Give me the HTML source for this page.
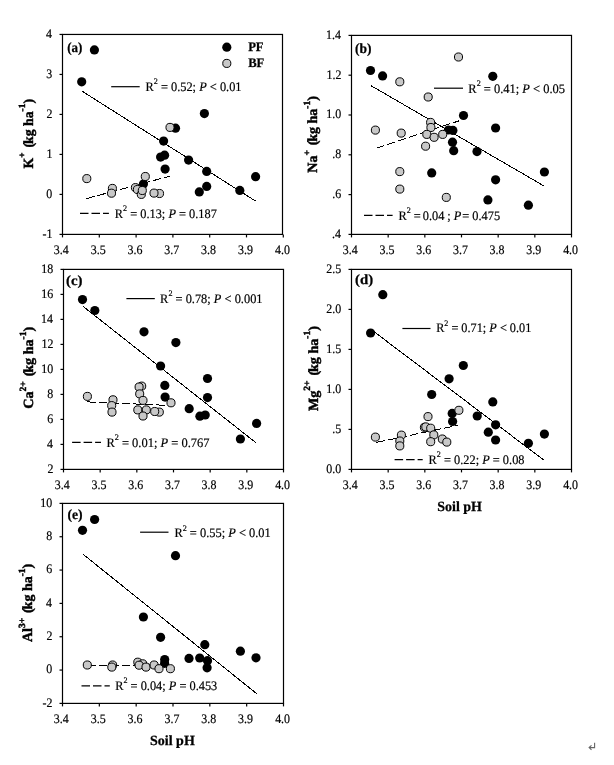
<!DOCTYPE html><html><head><meta charset="utf-8"><style>html,body{margin:0;padding:0;background:#fff;}svg{display:block;will-change:transform;}text{font-family:"Liberation Serif",serif;text-rendering:geometricPrecision;stroke:#000;stroke-width:0.2px;}</style></head><body>
<svg width="614" height="765" viewBox="0 0 614 765">
<rect width="100%" height="100%" fill="#fff"/>
<rect x="62.5" y="34.45" width="220" height="199.95" fill="none" stroke="#000" stroke-width="1.2"/>
<line x1="62.5" y1="234.4" x2="62.5" y2="237.4" stroke="#000" stroke-width="1.2"/>
<line x1="99.3" y1="234.4" x2="99.3" y2="237.4" stroke="#000" stroke-width="1.2"/>
<line x1="136.1" y1="234.4" x2="136.1" y2="237.4" stroke="#000" stroke-width="1.2"/>
<line x1="172.9" y1="234.4" x2="172.9" y2="237.4" stroke="#000" stroke-width="1.2"/>
<line x1="209.7" y1="234.4" x2="209.7" y2="237.4" stroke="#000" stroke-width="1.2"/>
<line x1="246.5" y1="234.4" x2="246.5" y2="237.4" stroke="#000" stroke-width="1.2"/>
<line x1="283.3" y1="234.4" x2="283.3" y2="237.4" stroke="#000" stroke-width="1.2"/>
<line x1="59.5" y1="34.45" x2="62.5" y2="34.45" stroke="#000" stroke-width="1.2"/>
<line x1="59.5" y1="74.44" x2="62.5" y2="74.44" stroke="#000" stroke-width="1.2"/>
<line x1="59.5" y1="114.43" x2="62.5" y2="114.43" stroke="#000" stroke-width="1.2"/>
<line x1="59.5" y1="154.42" x2="62.5" y2="154.42" stroke="#000" stroke-width="1.2"/>
<line x1="59.5" y1="194.41" x2="62.5" y2="194.41" stroke="#000" stroke-width="1.2"/>
<line x1="59.5" y1="234.4" x2="62.5" y2="234.4" stroke="#000" stroke-width="1.2"/>
<line x1="82.1" y1="91.2" x2="255.6" y2="201.1" stroke="#000" stroke-width="1.0" shape-rendering="crispEdges"/>
<line x1="86.4" y1="198.6" x2="170" y2="176.1" stroke="#000" stroke-width="1.0" stroke-dasharray="8.5 3" shape-rendering="crispEdges"/>
<circle cx="94.4" cy="49.9" r="4.6" fill="#000"/>
<circle cx="81.7" cy="81.8" r="4.6" fill="#000"/>
<circle cx="204.4" cy="113.6" r="4.6" fill="#000"/>
<circle cx="175.5" cy="128.2" r="4.6" fill="#000"/>
<circle cx="163.6" cy="141.1" r="4.6" fill="#000"/>
<circle cx="160.6" cy="157.1" r="4.6" fill="#000"/>
<circle cx="164.6" cy="155.2" r="4.6" fill="#000"/>
<circle cx="165.1" cy="169.1" r="4.6" fill="#000"/>
<circle cx="143.4" cy="184" r="4.6" fill="#000"/>
<circle cx="188.6" cy="160.1" r="4.6" fill="#000"/>
<circle cx="206.7" cy="171.4" r="4.6" fill="#000"/>
<circle cx="206.7" cy="186.4" r="4.6" fill="#000"/>
<circle cx="199.3" cy="191.9" r="4.6" fill="#000"/>
<circle cx="239.8" cy="190.4" r="4.6" fill="#000"/>
<circle cx="255.6" cy="176.7" r="4.6" fill="#000"/>
<circle cx="170" cy="127.4" r="4.05" fill="#c8c8c8" stroke="#000" stroke-width="1.0"/>
<circle cx="86.8" cy="178.6" r="4.05" fill="#c8c8c8" stroke="#000" stroke-width="1.0"/>
<circle cx="145.3" cy="176.5" r="4.05" fill="#c8c8c8" stroke="#000" stroke-width="1.0"/>
<circle cx="112.4" cy="188.4" r="4.05" fill="#c8c8c8" stroke="#000" stroke-width="1.0"/>
<circle cx="111.5" cy="193.2" r="4.05" fill="#c8c8c8" stroke="#000" stroke-width="1.0"/>
<circle cx="135.4" cy="187.6" r="4.05" fill="#c8c8c8" stroke="#000" stroke-width="1.0"/>
<circle cx="137.4" cy="189.5" r="4.05" fill="#c8c8c8" stroke="#000" stroke-width="1.0"/>
<circle cx="141.3" cy="194.4" r="4.05" fill="#c8c8c8" stroke="#000" stroke-width="1.0"/>
<circle cx="142.3" cy="190.5" r="4.05" fill="#c8c8c8" stroke="#000" stroke-width="1.0"/>
<circle cx="159.5" cy="193.5" r="4.05" fill="#c8c8c8" stroke="#000" stroke-width="1.0"/>
<circle cx="154" cy="193.1" r="4.05" fill="#c8c8c8" stroke="#000" stroke-width="1.0"/>
<line x1="111.2" y1="86.7" x2="139.7" y2="86.7" stroke="#000" stroke-width="1.2"/>
<line x1="80" y1="213.4" x2="108.9" y2="213.4" stroke="#000" stroke-width="1.2" stroke-dasharray="8.5 3"/>
<rect x="351.5" y="35.4" width="220" height="199" fill="none" stroke="#000" stroke-width="1.2"/>
<line x1="351.5" y1="234.4" x2="351.5" y2="237.4" stroke="#000" stroke-width="1.2"/>
<line x1="388.17" y1="234.4" x2="388.17" y2="237.4" stroke="#000" stroke-width="1.2"/>
<line x1="424.83" y1="234.4" x2="424.83" y2="237.4" stroke="#000" stroke-width="1.2"/>
<line x1="461.5" y1="234.4" x2="461.5" y2="237.4" stroke="#000" stroke-width="1.2"/>
<line x1="498.17" y1="234.4" x2="498.17" y2="237.4" stroke="#000" stroke-width="1.2"/>
<line x1="534.83" y1="234.4" x2="534.83" y2="237.4" stroke="#000" stroke-width="1.2"/>
<line x1="571.5" y1="234.4" x2="571.5" y2="237.4" stroke="#000" stroke-width="1.2"/>
<line x1="348.5" y1="35.4" x2="351.5" y2="35.4" stroke="#000" stroke-width="1.2"/>
<line x1="348.5" y1="75.2" x2="351.5" y2="75.2" stroke="#000" stroke-width="1.2"/>
<line x1="348.5" y1="115" x2="351.5" y2="115" stroke="#000" stroke-width="1.2"/>
<line x1="348.5" y1="154.8" x2="351.5" y2="154.8" stroke="#000" stroke-width="1.2"/>
<line x1="348.5" y1="194.6" x2="351.5" y2="194.6" stroke="#000" stroke-width="1.2"/>
<line x1="348.5" y1="234.4" x2="351.5" y2="234.4" stroke="#000" stroke-width="1.2"/>
<line x1="371.1" y1="85.7" x2="544.4" y2="186.2" stroke="#000" stroke-width="1.0" shape-rendering="crispEdges"/>
<line x1="376.4" y1="148.1" x2="459.4" y2="120.7" stroke="#000" stroke-width="1.0" stroke-dasharray="8.5 3" shape-rendering="crispEdges"/>
<circle cx="370.5" cy="70.5" r="4.6" fill="#000"/>
<circle cx="382.6" cy="75.9" r="4.6" fill="#000"/>
<circle cx="492.8" cy="76.3" r="4.6" fill="#000"/>
<circle cx="463.5" cy="115.5" r="4.6" fill="#000"/>
<circle cx="448.4" cy="130" r="4.6" fill="#000"/>
<circle cx="452.9" cy="130.4" r="4.6" fill="#000"/>
<circle cx="452.5" cy="142.2" r="4.6" fill="#000"/>
<circle cx="453.7" cy="150.7" r="4.6" fill="#000"/>
<circle cx="495.6" cy="128" r="4.6" fill="#000"/>
<circle cx="477" cy="151.6" r="4.6" fill="#000"/>
<circle cx="431.7" cy="172.9" r="4.6" fill="#000"/>
<circle cx="544.4" cy="172" r="4.6" fill="#000"/>
<circle cx="495.6" cy="179.8" r="4.6" fill="#000"/>
<circle cx="487.9" cy="199.9" r="4.6" fill="#000"/>
<circle cx="528.4" cy="205.2" r="4.6" fill="#000"/>
<circle cx="399.8" cy="81.8" r="4.05" fill="#c8c8c8" stroke="#000" stroke-width="1.0"/>
<circle cx="458.5" cy="57" r="4.05" fill="#c8c8c8" stroke="#000" stroke-width="1.0"/>
<circle cx="428.2" cy="97" r="4.05" fill="#c8c8c8" stroke="#000" stroke-width="1.0"/>
<circle cx="430.6" cy="122.4" r="4.05" fill="#c8c8c8" stroke="#000" stroke-width="1.0"/>
<circle cx="430.9" cy="127.5" r="4.05" fill="#c8c8c8" stroke="#000" stroke-width="1.0"/>
<circle cx="426.8" cy="134.4" r="4.05" fill="#c8c8c8" stroke="#000" stroke-width="1.0"/>
<circle cx="434.1" cy="137.3" r="4.05" fill="#c8c8c8" stroke="#000" stroke-width="1.0"/>
<circle cx="442.7" cy="134.4" r="4.05" fill="#c8c8c8" stroke="#000" stroke-width="1.0"/>
<circle cx="425.6" cy="146.2" r="4.05" fill="#c8c8c8" stroke="#000" stroke-width="1.0"/>
<circle cx="375.4" cy="130.1" r="4.05" fill="#c8c8c8" stroke="#000" stroke-width="1.0"/>
<circle cx="401.2" cy="133.1" r="4.05" fill="#c8c8c8" stroke="#000" stroke-width="1.0"/>
<circle cx="399.8" cy="171.6" r="4.05" fill="#c8c8c8" stroke="#000" stroke-width="1.0"/>
<circle cx="399.8" cy="189.1" r="4.05" fill="#c8c8c8" stroke="#000" stroke-width="1.0"/>
<circle cx="446.3" cy="197.4" r="4.05" fill="#c8c8c8" stroke="#000" stroke-width="1.0"/>
<line x1="434" y1="88.2" x2="463" y2="88.2" stroke="#000" stroke-width="1.2"/>
<line x1="364" y1="215.4" x2="392.6" y2="215.4" stroke="#000" stroke-width="1.2" stroke-dasharray="8.5 3"/>
<rect x="63.5" y="269.4" width="220" height="200" fill="none" stroke="#000" stroke-width="1.2"/>
<line x1="63.5" y1="469.4" x2="63.5" y2="472.4" stroke="#000" stroke-width="1.2"/>
<line x1="100.17" y1="469.4" x2="100.17" y2="472.4" stroke="#000" stroke-width="1.2"/>
<line x1="136.83" y1="469.4" x2="136.83" y2="472.4" stroke="#000" stroke-width="1.2"/>
<line x1="173.5" y1="469.4" x2="173.5" y2="472.4" stroke="#000" stroke-width="1.2"/>
<line x1="210.17" y1="469.4" x2="210.17" y2="472.4" stroke="#000" stroke-width="1.2"/>
<line x1="246.83" y1="469.4" x2="246.83" y2="472.4" stroke="#000" stroke-width="1.2"/>
<line x1="283.5" y1="469.4" x2="283.5" y2="472.4" stroke="#000" stroke-width="1.2"/>
<line x1="60.5" y1="269.4" x2="63.5" y2="269.4" stroke="#000" stroke-width="1.2"/>
<line x1="60.5" y1="294.4" x2="63.5" y2="294.4" stroke="#000" stroke-width="1.2"/>
<line x1="60.5" y1="319.4" x2="63.5" y2="319.4" stroke="#000" stroke-width="1.2"/>
<line x1="60.5" y1="344.4" x2="63.5" y2="344.4" stroke="#000" stroke-width="1.2"/>
<line x1="60.5" y1="369.4" x2="63.5" y2="369.4" stroke="#000" stroke-width="1.2"/>
<line x1="60.5" y1="394.4" x2="63.5" y2="394.4" stroke="#000" stroke-width="1.2"/>
<line x1="60.5" y1="419.4" x2="63.5" y2="419.4" stroke="#000" stroke-width="1.2"/>
<line x1="60.5" y1="444.4" x2="63.5" y2="444.4" stroke="#000" stroke-width="1.2"/>
<line x1="60.5" y1="469.4" x2="63.5" y2="469.4" stroke="#000" stroke-width="1.2"/>
<line x1="83.1" y1="306.4" x2="256.6" y2="443.3" stroke="#000" stroke-width="1.0" shape-rendering="crispEdges"/>
<line x1="87.4" y1="401.9" x2="168.5" y2="405.4" stroke="#000" stroke-width="1.0" stroke-dasharray="8.5 3" shape-rendering="crispEdges"/>
<circle cx="82.5" cy="299.6" r="4.6" fill="#000"/>
<circle cx="94.8" cy="310.5" r="4.6" fill="#000"/>
<circle cx="144" cy="331.8" r="4.6" fill="#000"/>
<circle cx="175.9" cy="342.6" r="4.6" fill="#000"/>
<circle cx="160.6" cy="366" r="4.6" fill="#000"/>
<circle cx="164.8" cy="385.4" r="4.6" fill="#000"/>
<circle cx="165.1" cy="397.1" r="4.6" fill="#000"/>
<circle cx="207.5" cy="378.5" r="4.6" fill="#000"/>
<circle cx="207.5" cy="397.6" r="4.6" fill="#000"/>
<circle cx="189.2" cy="408.7" r="4.6" fill="#000"/>
<circle cx="199.9" cy="416.2" r="4.6" fill="#000"/>
<circle cx="205.2" cy="415" r="4.6" fill="#000"/>
<circle cx="256.6" cy="423.4" r="4.6" fill="#000"/>
<circle cx="240.4" cy="439" r="4.6" fill="#000"/>
<circle cx="87.4" cy="396.4" r="4.05" fill="#c8c8c8" stroke="#000" stroke-width="1.0"/>
<circle cx="113" cy="399.8" r="4.05" fill="#c8c8c8" stroke="#000" stroke-width="1.0"/>
<circle cx="111.7" cy="405.6" r="4.05" fill="#c8c8c8" stroke="#000" stroke-width="1.0"/>
<circle cx="112" cy="412.1" r="4.05" fill="#c8c8c8" stroke="#000" stroke-width="1.0"/>
<circle cx="141.7" cy="386.1" r="4.05" fill="#c8c8c8" stroke="#000" stroke-width="1.0"/>
<circle cx="139.1" cy="387" r="4.05" fill="#c8c8c8" stroke="#000" stroke-width="1.0"/>
<circle cx="139.7" cy="393.9" r="4.05" fill="#c8c8c8" stroke="#000" stroke-width="1.0"/>
<circle cx="143" cy="400.4" r="4.05" fill="#c8c8c8" stroke="#000" stroke-width="1.0"/>
<circle cx="137.8" cy="409.9" r="4.05" fill="#c8c8c8" stroke="#000" stroke-width="1.0"/>
<circle cx="146.3" cy="409.9" r="4.05" fill="#c8c8c8" stroke="#000" stroke-width="1.0"/>
<circle cx="143" cy="416" r="4.05" fill="#c8c8c8" stroke="#000" stroke-width="1.0"/>
<circle cx="159.3" cy="412.1" r="4.05" fill="#c8c8c8" stroke="#000" stroke-width="1.0"/>
<circle cx="154.7" cy="411.5" r="4.05" fill="#c8c8c8" stroke="#000" stroke-width="1.0"/>
<circle cx="171" cy="402.8" r="4.05" fill="#c8c8c8" stroke="#000" stroke-width="1.0"/>
<line x1="126.4" y1="298.6" x2="154.8" y2="298.6" stroke="#000" stroke-width="1.2"/>
<line x1="72.1" y1="442.4" x2="101" y2="442.4" stroke="#000" stroke-width="1.2" stroke-dasharray="8.5 3"/>
<rect x="351.5" y="269.4" width="220" height="200" fill="none" stroke="#000" stroke-width="1.2"/>
<line x1="351.5" y1="469.4" x2="351.5" y2="472.4" stroke="#000" stroke-width="1.2"/>
<line x1="388.17" y1="469.4" x2="388.17" y2="472.4" stroke="#000" stroke-width="1.2"/>
<line x1="424.83" y1="469.4" x2="424.83" y2="472.4" stroke="#000" stroke-width="1.2"/>
<line x1="461.5" y1="469.4" x2="461.5" y2="472.4" stroke="#000" stroke-width="1.2"/>
<line x1="498.17" y1="469.4" x2="498.17" y2="472.4" stroke="#000" stroke-width="1.2"/>
<line x1="534.83" y1="469.4" x2="534.83" y2="472.4" stroke="#000" stroke-width="1.2"/>
<line x1="571.5" y1="469.4" x2="571.5" y2="472.4" stroke="#000" stroke-width="1.2"/>
<line x1="348.5" y1="269.4" x2="351.5" y2="269.4" stroke="#000" stroke-width="1.2"/>
<line x1="348.5" y1="309.4" x2="351.5" y2="309.4" stroke="#000" stroke-width="1.2"/>
<line x1="348.5" y1="349.4" x2="351.5" y2="349.4" stroke="#000" stroke-width="1.2"/>
<line x1="348.5" y1="389.4" x2="351.5" y2="389.4" stroke="#000" stroke-width="1.2"/>
<line x1="348.5" y1="429.4" x2="351.5" y2="429.4" stroke="#000" stroke-width="1.2"/>
<line x1="348.5" y1="469.4" x2="351.5" y2="469.4" stroke="#000" stroke-width="1.2"/>
<line x1="371" y1="329.4" x2="544.4" y2="460.5" stroke="#000" stroke-width="1.0" shape-rendering="crispEdges"/>
<line x1="376.4" y1="442.4" x2="457.5" y2="425.4" stroke="#000" stroke-width="1.0" stroke-dasharray="8.5 3" shape-rendering="crispEdges"/>
<circle cx="382.8" cy="294.7" r="4.6" fill="#000"/>
<circle cx="370.6" cy="333" r="4.6" fill="#000"/>
<circle cx="463.3" cy="365.5" r="4.6" fill="#000"/>
<circle cx="449.1" cy="378.8" r="4.6" fill="#000"/>
<circle cx="431.7" cy="394.5" r="4.6" fill="#000"/>
<circle cx="452.2" cy="413.4" r="4.6" fill="#000"/>
<circle cx="452.6" cy="421.5" r="4.6" fill="#000"/>
<circle cx="492.8" cy="401.9" r="4.6" fill="#000"/>
<circle cx="477.2" cy="416" r="4.6" fill="#000"/>
<circle cx="495.6" cy="424.8" r="4.6" fill="#000"/>
<circle cx="488.3" cy="432.2" r="4.6" fill="#000"/>
<circle cx="495.6" cy="440" r="4.6" fill="#000"/>
<circle cx="528.4" cy="443.3" r="4.6" fill="#000"/>
<circle cx="544.4" cy="434.1" r="4.6" fill="#000"/>
<circle cx="458.9" cy="410.3" r="4.05" fill="#c8c8c8" stroke="#000" stroke-width="1.0"/>
<circle cx="428" cy="416.6" r="4.05" fill="#c8c8c8" stroke="#000" stroke-width="1.0"/>
<circle cx="424.4" cy="427.3" r="4.05" fill="#c8c8c8" stroke="#000" stroke-width="1.0"/>
<circle cx="425.8" cy="426.9" r="4.05" fill="#c8c8c8" stroke="#000" stroke-width="1.0"/>
<circle cx="430.7" cy="428.2" r="4.05" fill="#c8c8c8" stroke="#000" stroke-width="1.0"/>
<circle cx="433.8" cy="434.9" r="4.05" fill="#c8c8c8" stroke="#000" stroke-width="1.0"/>
<circle cx="430.7" cy="441.7" r="4.05" fill="#c8c8c8" stroke="#000" stroke-width="1.0"/>
<circle cx="442.3" cy="439" r="4.05" fill="#c8c8c8" stroke="#000" stroke-width="1.0"/>
<circle cx="446.8" cy="442.1" r="4.05" fill="#c8c8c8" stroke="#000" stroke-width="1.0"/>
<circle cx="375.4" cy="437.1" r="4.05" fill="#c8c8c8" stroke="#000" stroke-width="1.0"/>
<circle cx="401.4" cy="435.1" r="4.05" fill="#c8c8c8" stroke="#000" stroke-width="1.0"/>
<circle cx="399.8" cy="441" r="4.05" fill="#c8c8c8" stroke="#000" stroke-width="1.0"/>
<circle cx="399.8" cy="445.9" r="4.05" fill="#c8c8c8" stroke="#000" stroke-width="1.0"/>
<line x1="402.4" y1="328.5" x2="430.5" y2="328.5" stroke="#000" stroke-width="1.2"/>
<line x1="394.6" y1="459.6" x2="422.7" y2="459.6" stroke="#000" stroke-width="1.2" stroke-dasharray="8.5 3"/>
<rect x="62.5" y="503.4" width="221" height="200" fill="none" stroke="#000" stroke-width="1.2"/>
<line x1="62.5" y1="703.4" x2="62.5" y2="706.4" stroke="#000" stroke-width="1.2"/>
<line x1="99.33" y1="703.4" x2="99.33" y2="706.4" stroke="#000" stroke-width="1.2"/>
<line x1="136.17" y1="703.4" x2="136.17" y2="706.4" stroke="#000" stroke-width="1.2"/>
<line x1="173" y1="703.4" x2="173" y2="706.4" stroke="#000" stroke-width="1.2"/>
<line x1="209.83" y1="703.4" x2="209.83" y2="706.4" stroke="#000" stroke-width="1.2"/>
<line x1="246.67" y1="703.4" x2="246.67" y2="706.4" stroke="#000" stroke-width="1.2"/>
<line x1="283.5" y1="703.4" x2="283.5" y2="706.4" stroke="#000" stroke-width="1.2"/>
<line x1="59.5" y1="503.4" x2="62.5" y2="503.4" stroke="#000" stroke-width="1.2"/>
<line x1="59.5" y1="536.73" x2="62.5" y2="536.73" stroke="#000" stroke-width="1.2"/>
<line x1="59.5" y1="570.07" x2="62.5" y2="570.07" stroke="#000" stroke-width="1.2"/>
<line x1="59.5" y1="603.4" x2="62.5" y2="603.4" stroke="#000" stroke-width="1.2"/>
<line x1="59.5" y1="636.73" x2="62.5" y2="636.73" stroke="#000" stroke-width="1.2"/>
<line x1="59.5" y1="670.07" x2="62.5" y2="670.07" stroke="#000" stroke-width="1.2"/>
<line x1="59.5" y1="703.4" x2="62.5" y2="703.4" stroke="#000" stroke-width="1.2"/>
<line x1="83.1" y1="554.3" x2="256.6" y2="693.6" stroke="#000" stroke-width="1.0" shape-rendering="crispEdges"/>
<line x1="87.3" y1="665" x2="168.5" y2="665" stroke="#000" stroke-width="1.0" stroke-dasharray="8.5 3" shape-rendering="crispEdges"/>
<circle cx="94.6" cy="519.5" r="4.6" fill="#000"/>
<circle cx="82.5" cy="530.3" r="4.6" fill="#000"/>
<circle cx="175.5" cy="555.7" r="4.6" fill="#000"/>
<circle cx="143.4" cy="617" r="4.6" fill="#000"/>
<circle cx="160.6" cy="637.3" r="4.6" fill="#000"/>
<circle cx="164.7" cy="659.5" r="4.6" fill="#000"/>
<circle cx="164.6" cy="663.3" r="4.6" fill="#000"/>
<circle cx="204.8" cy="644.7" r="4.6" fill="#000"/>
<circle cx="189" cy="658.4" r="4.6" fill="#000"/>
<circle cx="199.7" cy="658" r="4.6" fill="#000"/>
<circle cx="207.5" cy="660.7" r="4.6" fill="#000"/>
<circle cx="207.1" cy="667.8" r="4.6" fill="#000"/>
<circle cx="240.4" cy="651.2" r="4.6" fill="#000"/>
<circle cx="256" cy="657.8" r="4.6" fill="#000"/>
<circle cx="87.3" cy="665" r="4.05" fill="#c8c8c8" stroke="#000" stroke-width="1.0"/>
<circle cx="112.6" cy="665" r="4.05" fill="#c8c8c8" stroke="#000" stroke-width="1.0"/>
<circle cx="111.8" cy="667.1" r="4.05" fill="#c8c8c8" stroke="#000" stroke-width="1.0"/>
<circle cx="137.8" cy="662.2" r="4.05" fill="#c8c8c8" stroke="#000" stroke-width="1.0"/>
<circle cx="142.7" cy="663.8" r="4.05" fill="#c8c8c8" stroke="#000" stroke-width="1.0"/>
<circle cx="139.1" cy="665.2" r="4.05" fill="#c8c8c8" stroke="#000" stroke-width="1.0"/>
<circle cx="146" cy="667.1" r="4.05" fill="#c8c8c8" stroke="#000" stroke-width="1.0"/>
<circle cx="154.1" cy="665" r="4.05" fill="#c8c8c8" stroke="#000" stroke-width="1.0"/>
<circle cx="159" cy="668.7" r="4.05" fill="#c8c8c8" stroke="#000" stroke-width="1.0"/>
<circle cx="170.4" cy="668.7" r="4.05" fill="#c8c8c8" stroke="#000" stroke-width="1.0"/>
<line x1="140.1" y1="532.2" x2="168.5" y2="532.2" stroke="#000" stroke-width="1.2"/>
<line x1="81.5" y1="685.8" x2="109.8" y2="685.8" stroke="#000" stroke-width="1.2" stroke-dasharray="8.5 3"/>
<circle cx="226.8" cy="47.2" r="4.6" fill="#000"/>
<circle cx="226.8" cy="63.4" r="4.05" fill="#c8c8c8" stroke="#000" stroke-width="1.0"/>
<text transform="translate(53.8,253.8) scale(0.9200,1)" font-size="13">3.4</text>
<text transform="translate(90.71,253.8) scale(0.9200,1)" font-size="13">3.5</text>
<text transform="translate(127.51,253.8) scale(0.9200,1)" font-size="13">3.6</text>
<text transform="translate(164.31,253.8) scale(0.9200,1)" font-size="13">3.7</text>
<text transform="translate(201.11,253.8) scale(0.9200,1)" font-size="13">3.8</text>
<text transform="translate(237.91,253.8) scale(0.9200,1)" font-size="13">3.9</text>
<text transform="translate(274.94,253.8) scale(0.9200,1)" font-size="13">4.0</text>
<text transform="translate(46.05,37.75) scale(0.9200,1)" font-size="13">4</text>
<text transform="translate(46.28,77.74) scale(0.9200,1)" font-size="13">3</text>
<text transform="translate(46.51,117.73) scale(0.9200,1)" font-size="13">2</text>
<text transform="translate(46.51,157.72) scale(0.9200,1)" font-size="13">1</text>
<text transform="translate(46.28,197.71) scale(0.9200,1)" font-size="13">0</text>
<text transform="translate(42.6,237.7) scale(0.9200,1)" font-size="13">-1</text>
<text transform="translate(67.23,51.8) scale(0.9311,1)" font-size="14" font-weight="bold" style="stroke-width:0.25px">(a)</text>
<text transform="translate(145.52,90.9) scale(0.9514,1)" font-size="13">R<tspan font-size="8.5" dy="-6.5">2</tspan><tspan dy="6.5"> = 0.52; </tspan><tspan font-style="italic">P</tspan> &lt; 0.01</text>
<text transform="translate(114.82,217.6) scale(0.9502,1)" font-size="13">R<tspan font-size="8.5" dy="-6.5">2</tspan><tspan dy="6.5"> = 0.13; </tspan><tspan font-style="italic">P</tspan> = 0.187</text>
<text transform="translate(32.6,168.45) rotate(-90) scale(0.9856,1)" font-size="14" font-weight="bold" style="stroke-width:0.45px">K<tspan font-size="9.5" dy="-7.2">+</tspan><tspan dy="7.2"> </tspan><tspan dx="1.5">(</tspan><tspan dx="-1.2">kg ha</tspan><tspan font-size="9.5" dy="-7.2">-1</tspan><tspan dy="7.2">)</tspan></text>
<text transform="translate(342.8,253.8) scale(0.9200,1)" font-size="13">3.4</text>
<text transform="translate(379.58,253.8) scale(0.9200,1)" font-size="13">3.5</text>
<text transform="translate(416.24,253.8) scale(0.9200,1)" font-size="13">3.6</text>
<text transform="translate(452.91,253.8) scale(0.9200,1)" font-size="13">3.7</text>
<text transform="translate(489.58,253.8) scale(0.9200,1)" font-size="13">3.8</text>
<text transform="translate(526.24,253.8) scale(0.9200,1)" font-size="13">3.9</text>
<text transform="translate(563.14,253.8) scale(0.9200,1)" font-size="13">4.0</text>
<text transform="translate(326.08,38.7) scale(0.9200,1)" font-size="13">1.4</text>
<text transform="translate(326.54,78.5) scale(0.9200,1)" font-size="13">1.2</text>
<text transform="translate(326.31,118.3) scale(0.9200,1)" font-size="13">1.0</text>
<text transform="translate(332.29,158.1) scale(0.9200,1)" font-size="13">.8</text>
<text transform="translate(332.29,197.9) scale(0.9200,1)" font-size="13">.6</text>
<text transform="translate(332.06,237.7) scale(0.9200,1)" font-size="13">.4</text>
<text transform="translate(355.12,52.7) scale(0.9625,1)" font-size="14" font-weight="bold" style="stroke-width:0.25px">(b)</text>
<text transform="translate(468.32,92.9) scale(0.9580,1)" font-size="13">R<tspan font-size="8.5" dy="-6.5">2</tspan><tspan dy="6.5"> = 0.41; </tspan><tspan font-style="italic">P</tspan> &lt; 0.05</text>
<text transform="translate(398.42,219.7) scale(0.9500,1)" font-size="13">R<tspan font-size="8.5" dy="-6.5">2</tspan><tspan dy="6.5"> =</tspan><tspan dx="2.2">0.04</tspan><tspan dx="3">;</tspan><tspan dx="3.2" font-style="italic">P</tspan><tspan dx="1">=</tspan> 0.475</text>
<text transform="translate(316.8,172.65) rotate(-90) scale(0.9980,1)" font-size="14" font-weight="bold" style="stroke-width:0.45px">Na<tspan font-size="9.5" dy="-7.2">+</tspan><tspan dy="7.2"> </tspan><tspan dx="1.5">(</tspan><tspan dx="-1.2">kg ha</tspan><tspan font-size="9.5" dy="-7.2">-1</tspan><tspan dy="7.2">)</tspan></text>
<text transform="translate(54.8,488.8) scale(0.9200,1)" font-size="13">3.4</text>
<text transform="translate(91.58,488.8) scale(0.9200,1)" font-size="13">3.5</text>
<text transform="translate(128.24,488.8) scale(0.9200,1)" font-size="13">3.6</text>
<text transform="translate(164.91,488.8) scale(0.9200,1)" font-size="13">3.7</text>
<text transform="translate(201.58,488.8) scale(0.9200,1)" font-size="13">3.8</text>
<text transform="translate(238.24,488.8) scale(0.9200,1)" font-size="13">3.9</text>
<text transform="translate(275.14,488.8) scale(0.9200,1)" font-size="13">4.0</text>
<text transform="translate(41.3,272.7) scale(0.9200,1)" font-size="13">18</text>
<text transform="translate(41.3,297.7) scale(0.9200,1)" font-size="13">16</text>
<text transform="translate(41.07,322.7) scale(0.9200,1)" font-size="13">14</text>
<text transform="translate(41.53,347.7) scale(0.9200,1)" font-size="13">12</text>
<text transform="translate(41.3,372.7) scale(0.9200,1)" font-size="13">10</text>
<text transform="translate(47.28,397.7) scale(0.9200,1)" font-size="13">8</text>
<text transform="translate(47.28,422.7) scale(0.9200,1)" font-size="13">6</text>
<text transform="translate(47.05,447.7) scale(0.9200,1)" font-size="13">4</text>
<text transform="translate(47.51,472.7) scale(0.9200,1)" font-size="13">2</text>
<text transform="translate(66.07,284.9) scale(1.0621,1)" font-size="14" font-weight="bold" style="stroke-width:0.25px">(c)</text>
<text transform="translate(160.12,302.5) scale(0.9534,1)" font-size="13">R<tspan font-size="8.5" dy="-6.5">2</tspan><tspan dy="6.5"> = 0.78; </tspan><tspan font-style="italic">P</tspan> &lt; 0.001</text>
<text transform="translate(106.42,446.5) scale(0.9596,1)" font-size="13">R<tspan font-size="8.5" dy="-6.5">2</tspan><tspan dy="6.5"> = 0.01; </tspan><tspan font-style="italic">P</tspan> = 0.767</text>
<text transform="translate(33,408.75) rotate(-90) scale(1.0063,1)" font-size="14" font-weight="bold" style="stroke-width:0.45px">Ca<tspan font-size="9.5" dy="-7.2">2+</tspan><tspan dy="7.2"> </tspan><tspan dx="1.5">(</tspan><tspan dx="-1.2">kg ha</tspan><tspan font-size="9.5" dy="-7.2">-1</tspan><tspan dy="7.2">)</tspan></text>
<text transform="translate(342.8,488.8) scale(0.9200,1)" font-size="13">3.4</text>
<text transform="translate(379.58,488.8) scale(0.9200,1)" font-size="13">3.5</text>
<text transform="translate(416.24,488.8) scale(0.9200,1)" font-size="13">3.6</text>
<text transform="translate(452.91,488.8) scale(0.9200,1)" font-size="13">3.7</text>
<text transform="translate(489.58,488.8) scale(0.9200,1)" font-size="13">3.8</text>
<text transform="translate(526.24,488.8) scale(0.9200,1)" font-size="13">3.9</text>
<text transform="translate(563.14,488.8) scale(0.9200,1)" font-size="13">4.0</text>
<text transform="translate(326.31,272.7) scale(0.9200,1)" font-size="13">2.5</text>
<text transform="translate(326.31,312.7) scale(0.9200,1)" font-size="13">2.0</text>
<text transform="translate(326.31,352.7) scale(0.9200,1)" font-size="13">1.5</text>
<text transform="translate(326.31,392.7) scale(0.9200,1)" font-size="13">1.0</text>
<text transform="translate(332.29,432.7) scale(0.9200,1)" font-size="13">.5</text>
<text transform="translate(326.31,472.7) scale(0.9200,1)" font-size="13">0.0</text>
<text transform="translate(355.07,283.7) scale(1.0562,1)" font-size="14" font-weight="bold" style="stroke-width:0.25px">(d)</text>
<text transform="translate(436.13,332.4) scale(0.9434,1)" font-size="13">R<tspan font-size="8.5" dy="-6.5">2</tspan><tspan dy="6.5"> = 0.71; </tspan><tspan font-style="italic">P</tspan> &lt; 0.01</text>
<text transform="translate(428.62,463.5) scale(0.9500,1)" font-size="13">R<tspan font-size="8.5" dy="-6.5">2</tspan><tspan dy="6.5"> = 0.22; </tspan><tspan font-style="italic">P</tspan> = 0.08</text>
<text transform="translate(317.6,411.05) rotate(-90) scale(1.0054,1)" font-size="14" font-weight="bold" style="stroke-width:0.45px">Mg<tspan font-size="9.5" dy="-7.2">2+</tspan><tspan dy="7.2"> </tspan><tspan dx="1.5">(</tspan><tspan dx="-1.2">kg ha</tspan><tspan font-size="9.5" dy="-7.2">-1</tspan><tspan dy="7.2">)</tspan></text>
<text transform="translate(53.8,722.8) scale(0.9200,1)" font-size="13">3.4</text>
<text transform="translate(90.74,722.8) scale(0.9200,1)" font-size="13">3.5</text>
<text transform="translate(127.58,722.8) scale(0.9200,1)" font-size="13">3.6</text>
<text transform="translate(164.41,722.8) scale(0.9200,1)" font-size="13">3.7</text>
<text transform="translate(201.24,722.8) scale(0.9200,1)" font-size="13">3.8</text>
<text transform="translate(238.08,722.8) scale(0.9200,1)" font-size="13">3.9</text>
<text transform="translate(275.14,722.8) scale(0.9200,1)" font-size="13">4.0</text>
<text transform="translate(40.3,506.7) scale(0.9200,1)" font-size="13">10</text>
<text transform="translate(46.28,540.03) scale(0.9200,1)" font-size="13">8</text>
<text transform="translate(46.28,573.37) scale(0.9200,1)" font-size="13">6</text>
<text transform="translate(46.05,606.7) scale(0.9200,1)" font-size="13">4</text>
<text transform="translate(46.51,640.03) scale(0.9200,1)" font-size="13">2</text>
<text transform="translate(46.28,673.37) scale(0.9200,1)" font-size="13">0</text>
<text transform="translate(42.6,706.7) scale(0.9200,1)" font-size="13">-2</text>
<text transform="translate(67.41,518.7) scale(0.9724,1)" font-size="14" font-weight="bold" style="stroke-width:0.25px">(e)</text>
<text transform="translate(174.42,537.1) scale(0.9544,1)" font-size="13">R<tspan font-size="8.5" dy="-6.5">2</tspan><tspan dy="6.5"> = 0.55; </tspan><tspan font-style="italic">P</tspan> &lt; 0.01</text>
<text transform="translate(115.22,689.7) scale(0.9502,1)" font-size="13">R<tspan font-size="8.5" dy="-6.5">2</tspan><tspan dy="6.5"> = 0.04; </tspan><tspan font-style="italic">P</tspan> = 0.453</text>
<text transform="translate(31.8,642.05) rotate(-90) scale(1.0000,1)" font-size="14" font-weight="bold" style="stroke-width:0.45px">Al<tspan font-size="9.5" dy="-7.2">3+</tspan><tspan dy="7.2"> </tspan><tspan dx="1.5">(</tspan><tspan dx="-1.2">kg ha</tspan><tspan font-size="9.5" dy="-7.2">-1</tspan><tspan dy="7.2">)</tspan></text>
<text transform="translate(248.16,50.8) scale(0.9700,1)" font-size="13" font-weight="bold" style="stroke-width:0.25px">PF</text>
<text transform="translate(248.16,66.7) scale(0.9700,1)" font-size="13" font-weight="bold" style="stroke-width:0.25px">BF</text>
<text transform="translate(150.05,744.8) scale(1.0000,1)" font-size="14" font-weight="bold" style="stroke-width:0.25px">Soil pH</text>
<text transform="translate(437.25,511) scale(1.0000,1)" font-size="14" font-weight="bold" style="stroke-width:0.25px">Soil pH</text>
<path d="M594.6,742.8 V747.6 H589.4 M591.5,745.3 L589.1,747.6 L591.5,749.9" fill="none" stroke="#666" stroke-width="1.1"/>
</svg></body></html>
